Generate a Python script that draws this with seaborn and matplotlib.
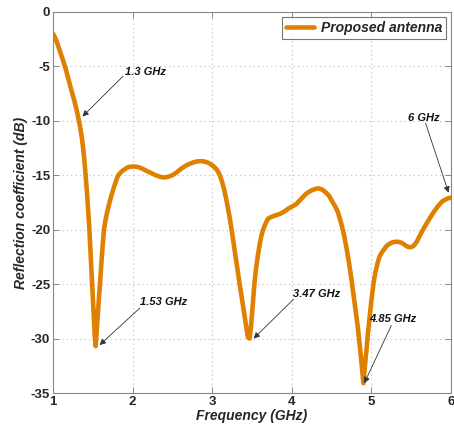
import matplotlib
matplotlib.use("Agg")
import matplotlib.pyplot as plt
import seaborn as sns
import pandas as pd

freq = [1.0, 1.02, 1.04, 1.06, 1.08, 1.115, 1.15, 1.19, 1.235, 1.27, 1.30, 1.325,
        1.345, 1.365, 1.38, 1.395, 1.41, 1.43, 1.455, 1.47, 1.49, 1.51, 1.525, 1.535,
        1.55, 1.57,
        1.59, 1.615, 1.64, 1.66, 1.68, 1.70, 1.715, 1.74, 1.77, 1.80, 1.82, 1.85,
        1.87, 1.90, 1.93, 1.965, 2.0, 2.035, 2.07, 2.11, 2.15, 2.20, 2.25, 2.29,
        2.33, 2.37, 2.405, 2.44, 2.48, 2.52, 2.56, 2.60, 2.65, 2.70, 2.75, 2.81,
        2.865, 2.91, 2.95, 2.985, 3.02, 3.06, 3.09, 3.12, 3.15, 3.185, 3.22, 3.25,
        3.28, 3.31, 3.345, 3.375, 3.40, 3.425, 3.45, 3.47, 3.49, 3.51, 3.53, 3.55,
        3.575, 3.60, 3.62, 3.64, 3.66, 3.68, 3.70, 3.735, 3.77, 3.81, 3.85, 3.89,
        3.93, 3.97, 4.01, 4.055, 4.10, 4.14, 4.18, 4.22, 4.26, 4.30, 4.33, 4.36,
        4.39, 4.43, 4.47, 4.50, 4.54, 4.58, 4.62, 4.66, 4.69, 4.72, 4.75,
        4.78, 4.805, 4.83, 4.85, 4.87, 4.885, 4.90, 4.92, 4.94, 4.955, 4.975, 5.0,
        5.025, 5.045, 5.06, 5.08, 5.10, 5.13, 5.16, 5.19, 5.225, 5.27, 5.31, 5.345,
        5.38, 5.41, 5.44, 5.47, 5.50, 5.535, 5.57, 5.605, 5.64, 5.68, 5.72, 5.755,
        5.79, 5.84, 5.89, 5.95, 6.0]
s11 = [-2.0, -2.25, -2.6, -3.0, -3.45, -4.2, -5.0, -6.05, -7.3, -8.2, -9.1, -9.95,
       -10.75, -11.7, -12.6, -13.7, -15.0, -16.9, -19.7, -21.9, -25.0, -27.8, -29.8, -30.7,
       -29.2, -27.0,
       -25.0, -22.3, -20.0, -19.1, -18.4, -17.8, -17.35, -16.7, -16.0, -15.35, -15.0, -14.75,
       -14.6, -14.45, -14.3, -14.22, -14.2, -14.2, -14.25, -14.35, -14.5, -14.68, -14.85, -15.0,
       -15.1, -15.18, -15.2, -15.15, -15.05, -14.9, -14.7, -14.45, -14.2, -14.0, -13.85, -13.72,
       -13.7, -13.75, -13.85, -14.0, -14.2, -14.5, -14.9, -15.5, -16.3, -17.5, -18.9, -20.3,
       -21.8, -23.3, -25.0, -26.4, -27.6, -28.8, -29.9, -30.0, -28.7, -26.8, -25.0, -23.6,
       -22.3, -21.2, -20.5, -20.0, -19.6, -19.3, -19.0, -18.85, -18.75, -18.65, -18.55, -18.4,
       -18.2, -18.0, -17.85, -17.65, -17.3, -17.0, -16.7, -16.5, -16.35, -16.25, -16.2, -16.25,
       -16.35, -16.6, -16.9, -17.3, -17.8, -18.4, -19.4, -20.6, -21.8, -23.1, -24.6,
       -26.2, -27.6, -29.0, -30.4, -31.8, -33.0, -34.1, -32.4, -30.9, -29.6, -28.2, -26.5,
       -25.0, -24.1, -23.6, -23.0, -22.5, -22.1, -21.8, -21.5, -21.3, -21.15, -21.1, -21.12,
       -21.2, -21.35, -21.5, -21.6, -21.6, -21.45, -21.1, -20.6, -20.1, -19.6, -19.1, -18.7,
       -18.3, -17.8, -17.4, -17.15, -17.05]

series_label = "Proposed antenna"
x_ticks = [1, 2, 3, 4, 5, 6]
y_ticks = [0, -5, -10, -15, -20, -25, -30, -35]

ann_labels = ["1.3 GHz", "1.53 GHz", "3.47 GHz", "4.85 GHz", "6 GHz"]
ann_tips = [(1.37, -9.6), (1.585, -30.6), (3.52, -30.0), (4.91, -34.1), (5.97, -16.6)]
ann_tails = [(1.88, -5.9), (2.09, -27.2), (4.02, -26.4), (5.25, -28.8), (5.68, -10.2)]
ann_text_pos = [(1.90, -5.5), (2.09, -26.6), (4.02, -25.9), (4.975, -28.2), (5.46, -9.7)]

df = pd.DataFrame({"Frequency": freq, "S11": s11, "Series": series_label})

sns.set_style("ticks")
plt.rcParams['font.family'] = ['Liberation Sans', 'DejaVu Sans']

fig = plt.figure(figsize=(4.54, 4.32), dpi=100)
ax = fig.add_axes([53/454, 1 - 393/432, 398/454, 381/432])

sns.lineplot(data=df, x="Frequency", y="S11", hue="Series",
             palette=["#E08000"], linewidth=3.3, ax=ax, sort=False)
for ln in ax.get_lines():
    ln.set_solid_joinstyle("round")
    ln.set_solid_capstyle("round")

ax.set_xlim(1, 6)
ax.set_ylim(-35, 0)
ax.set_xticks(x_ticks)
ax.set_yticks(y_ticks)
ax.set_xticklabels([str(t) for t in x_ticks], fontweight="bold", fontsize=9.5)
ax.set_yticklabels([str(t) for t in y_ticks], fontweight="bold", fontsize=9.5)
ax.tick_params(direction="in", length=4, width=0.7, color="#888888",
               top=True, right=True, pad=2)
ax.grid(True, linestyle=(0, (1, 3)), color="#bbbbbb", linewidth=0.8)
for sp in ax.spines.values():
    sp.set_color("#888888")
    sp.set_linewidth(0.8)
    sp.set_visible(True)

ax.set_xlabel("Frequency (GHz)", fontweight="bold", fontstyle="italic", fontsize=10, labelpad=1)
ax.set_ylabel("Reflection coefficient (dB)", fontweight="bold", fontstyle="italic", fontsize=10, labelpad=2)

for lab, tip, tail, tp in zip(ann_labels, ann_tips, ann_tails, ann_text_pos):
    ax.annotate("", xy=tip, xytext=tail,
                arrowprops=dict(arrowstyle="-|>", color="#333333", lw=0.6,
                                mutation_scale=9, shrinkA=0, shrinkB=0))
    ax.text(tp[0], tp[1], lab, fontsize=8, fontweight="bold", fontstyle="italic",
            ha="left", va="center", color="#111111")

leg = ax.legend(loc="upper right", frameon=True, fancybox=False, handlelength=2.0,
                borderpad=0.3, handletextpad=0.5, borderaxespad=0.35,
                prop=dict(weight="bold", style="italic", size=10))
leg.get_frame().set_edgecolor("#555555")
leg.get_frame().set_linewidth(0.8)

fig.savefig("out.png", dpi=100)
